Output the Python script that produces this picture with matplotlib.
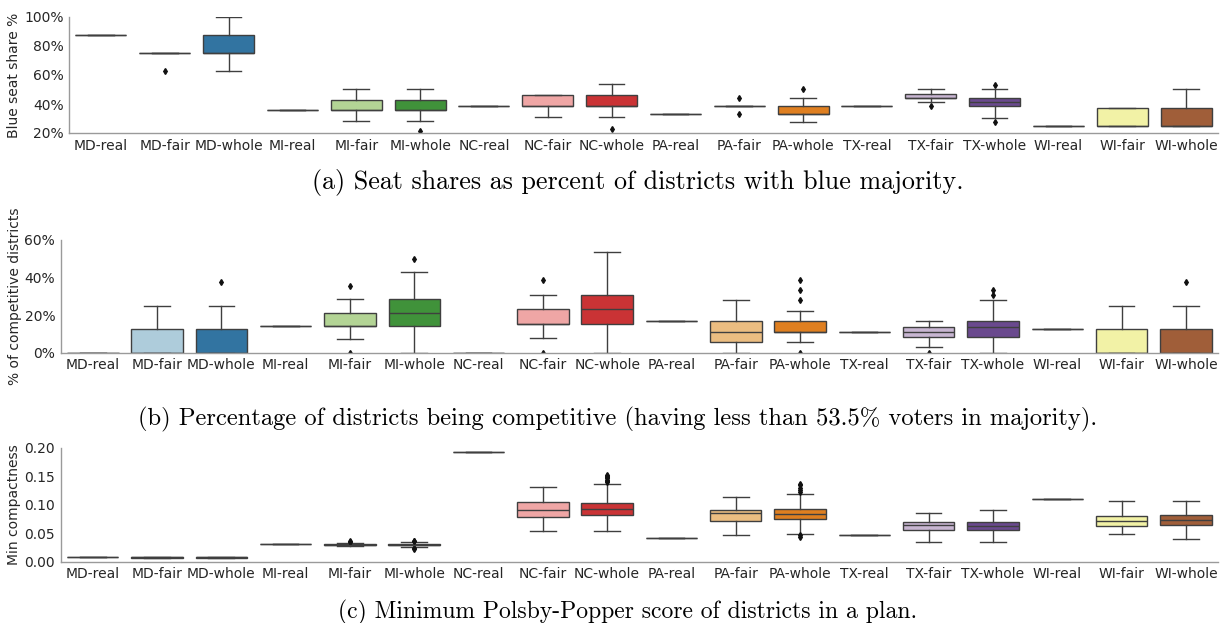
import matplotlib
matplotlib.use('Agg')
import matplotlib.pyplot as plt
from matplotlib.ticker import PercentFormatter, FormatStrFormatter
import seaborn as sns

plt.rcParams.update({'font.family': 'DejaVu Sans', 'figure.dpi': 100})

W, H = 1223, 623

categories = ['MD-real', 'MD-fair', 'MD-whole', 'MI-real', 'MI-fair', 'MI-whole',
              'NC-real', 'NC-fair', 'NC-whole', 'PA-real', 'PA-fair', 'PA-whole',
              'TX-real', 'TX-fair', 'TX-whole', 'WI-real', 'WI-fair', 'WI-whole']

# (a) blue seat share, percent
seat_med = [87.5, 75.0, 75.0, 35.7, 35.7, 35.7, 38.5, 38.5, 38.5, 33.3, 38.9, 33.3, 38.9, 44.4, 41.7, 25.0, 25.0, 25.0]
seat_q1 = [87.5, 75.0, 75.0, 35.7, 35.7, 35.7, 38.5, 38.5, 38.5, 33.3, 38.9, 33.3, 38.9, 44.4, 38.9, 25.0, 25.0, 25.0]
seat_q3 = [87.5, 75.0, 87.5, 35.7, 42.9, 42.9, 38.5, 46.2, 46.2, 33.3, 38.9, 38.9, 38.9, 47.2, 44.4, 25.0, 37.5, 37.5]
seat_lo = [87.5, 75.0, 62.5, 35.7, 28.6, 28.6, 38.5, 30.8, 30.8, 33.3, 38.9, 27.8, 38.9, 41.7, 30.6, 25.0, 25.0, 25.0]
seat_hi = [87.5, 75.0, 100.0, 35.7, 50.0, 50.0, 38.5, 46.2, 53.8, 33.3, 38.9, 44.4, 38.9, 50.0, 50.0, 25.0, 37.5, 50.0]
seat_fliers = [[], [62.5], [], [], [], [21.4], [], [], [23.1], [], [44.4, 33.3], [50.0],
               [], [38.9], [52.8, 27.8], [], [], []]

# (b) competitive districts, percent
comp_med = [0, 0, 0, 14.3, 14.3, 21.4, 0, 15.4, 23.1, 16.7, 11.1, 11.1, 11.1, 11.1, 13.9, 12.5, 0, 0]
comp_q1 = [0, 0, 0, 14.3, 14.3, 14.3, 0, 15.4, 15.4, 16.7, 5.6, 11.1, 11.1, 8.3, 8.3, 12.5, 0, 0]
comp_q3 = [0, 12.5, 12.5, 14.3, 21.4, 28.6, 0, 23.1, 30.8, 16.7, 16.7, 16.7, 11.1, 13.9, 16.7, 12.5, 12.5, 12.5]
comp_lo = [0, 0, 0, 14.3, 7.1, 0, 0, 7.7, 0, 16.7, 0, 5.6, 11.1, 2.8, 0, 12.5, 0, 0]
comp_hi = [0, 25.0, 25.0, 14.3, 28.6, 42.9, 0, 30.8, 53.8, 16.7, 27.8, 22.2, 11.1, 16.7, 27.8, 12.5, 25.0, 25.0]
comp_fliers = [[], [], [37.5], [], [0, 35.7], [50.0], [], [0, 38.5], [], [], [],
               [0, 27.8, 33.3, 38.9], [], [0], [30.6, 33.3], [], [], [37.5]]

# (c) minimum Polsby-Popper compactness
pp_med = [0.0075, 0.0075, 0.0075, 0.031, 0.030, 0.030, 0.193, 0.090, 0.093, 0.042, 0.086, 0.084,
          0.046, 0.064, 0.063, 0.110, 0.072, 0.073]
pp_q1 = [0.0075, 0.007, 0.007, 0.031, 0.029, 0.029, 0.193, 0.078, 0.082, 0.042, 0.071, 0.075,
         0.046, 0.055, 0.055, 0.110, 0.062, 0.064]
pp_q3 = [0.0075, 0.008, 0.008, 0.031, 0.031, 0.031, 0.193, 0.105, 0.103, 0.042, 0.091, 0.093,
         0.046, 0.069, 0.069, 0.110, 0.080, 0.082]
pp_lo = [0.0075, 0.0065, 0.0065, 0.031, 0.027, 0.025, 0.193, 0.053, 0.053, 0.042, 0.047, 0.049,
         0.046, 0.035, 0.035, 0.110, 0.048, 0.040]
pp_hi = [0.0075, 0.0085, 0.0085, 0.031, 0.033, 0.034, 0.193, 0.131, 0.136, 0.042, 0.114, 0.119,
         0.046, 0.086, 0.090, 0.110, 0.107, 0.107]
pp_fliers = [[], [], [], [], [0.035, 0.036], [0.036, 0.037, 0.024, 0.023], [], [],
             [0.140, 0.142, 0.144, 0.146, 0.148, 0.150, 0.152], [], [],
             [0.122, 0.126, 0.130, 0.134, 0.137, 0.046, 0.044], [], [], [], [], [], []]

captions = ['(a) Seat shares as percent of districts with blue majority.',
            '(b) Percentage of districts being competitive (having less than 53.5% voters in majority).',
            '(c) Minimum Polsby-Popper score of districts in a plan.']

pal = sns.color_palette('Paired', 12, desat=0.75)
# light colour for real/fair, dark for whole
box_colors = []
for i in range(6):
    box_colors += [pal[2 * i], pal[2 * i], pal[2 * i + 1]]
GRAY = '#3f3f3f'

fig = plt.figure(figsize=(W / 100, H / 100))


def panel(rect, med, q1, q3, lo, hi, fl, ylabel, ylim, yticks, fmt):
    ax = fig.add_axes(rect)
    stats = [dict(med=m, q1=a, q3=b, whislo=l, whishi=h, fliers=f)
             for m, a, b, l, h, f in zip(med, q1, q3, lo, hi, fl)]
    bp = ax.bxp(stats, positions=range(len(stats)), widths=0.8, capwidths=0.4,
                patch_artist=True, showfliers=True,
                boxprops=dict(edgecolor=GRAY, linewidth=1.0),
                whiskerprops=dict(color=GRAY, linewidth=1.0),
                capprops=dict(color=GRAY, linewidth=1.0),
                medianprops=dict(color=GRAY, linewidth=1.0),
                flierprops=dict(marker='d', markerfacecolor='#111111', markeredgecolor='#111111',
                                markersize=3, linestyle='none'))
    for patch, c in zip(bp['boxes'], box_colors):
        patch.set_facecolor(c)
    ax.set_xlim(-0.5, len(stats) - 0.5)
    ax.set_ylim(*ylim)
    ax.set_yticks(yticks)
    ax.yaxis.set_major_formatter(fmt)
    ax.set_xticks(range(len(stats)))
    ax.set_xticklabels(categories)
    ax.tick_params(length=0, labelsize=10, colors='#262626', pad=4)
    ax.set_ylabel(ylabel, fontsize=10, color='#262626', labelpad=2)
    for s in ['top', 'right']:
        ax.spines[s].set_visible(False)
    for s in ['left', 'bottom']:
        ax.spines[s].set_color('#9a9a9a')
        ax.spines[s].set_linewidth(1.0)
    return ax


RIGHT = 1218
panel([69 / W, 1 - 133 / H, (RIGHT - 69) / W, 116 / H], seat_med, seat_q1, seat_q3, seat_lo, seat_hi,
      seat_fliers, 'Blue seat share %', (20, 100), [20, 40, 60, 80, 100], PercentFormatter(decimals=0))
panel([60.7 / W, 1 - 352.7 / H, (RIGHT - 60.7) / W, 112.7 / H], comp_med, comp_q1, comp_q3, comp_lo, comp_hi,
      comp_fliers, '% of competitive districts', (0, 60), [0, 20, 40, 60], PercentFormatter(decimals=0))
panel([60.5 / W, 1 - 561.7 / H, (RIGHT - 60.5) / W, 114 / H], pp_med, pp_q1, pp_q3, pp_lo, pp_hi,
      pp_fliers, 'Min compactness', (0, 0.2), [0, 0.05, 0.1, 0.15, 0.2], FormatStrFormatter('%.2f'))

# captions, sized to their width in the reference
renderer = fig.canvas.get_renderer()
for txt, (x0, x1, yc) in zip(captions, [(312, 964, 183), (138, 1098, 419), (338, 918, 612)]):
    t = fig.text((x0 + x1) / 2 / W, 1 - yc / H, txt, ha='center', va='center',
                 fontfamily='cmr10', fontsize=14, color='black')
    w = t.get_window_extent(renderer).width
    t.set_fontsize(14 * (x1 - x0) / w)

fig.savefig('out.png', dpi=100, facecolor='white')
